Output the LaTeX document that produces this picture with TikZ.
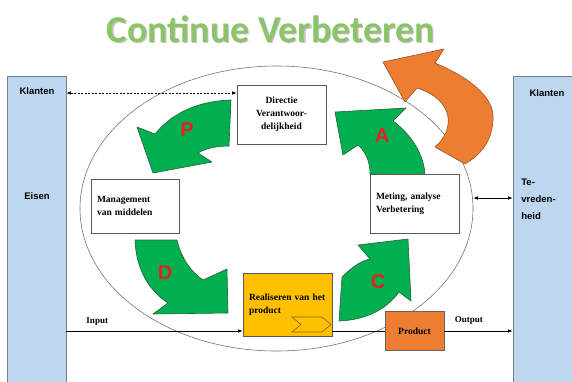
\documentclass[tikz,border=0pt]{standalone}
\usepackage{fontspec}
\setmainfont{Liberation Serif}
\newfontfamily\arialfont{Liberation Sans}
\newfontfamily\calibrifont{Carlito}
\usetikzlibrary{shapes.geometric,arrows.meta}
\definecolor{barblue}{RGB}{189,215,238}
\definecolor{barline}{RGB}{110,128,148}
\definecolor{pdcagreen}{RGB}{0,176,80}
\definecolor{pdcaline}{RGB}{40,95,55}
\definecolor{kaizenorange}{RGB}{237,125,49}
\definecolor{orangeline}{RGB}{150,82,40}
\definecolor{prodyellow}{RGB}{255,192,0}
\definecolor{chevronline}{RGB}{140,100,0}
\definecolor{titlegreen}{RGB}{140,196,106}
\definecolor{letterred}{RGB}{228,32,32}
\tikzset{every picture/.style={line width=0.75pt}}
\tikzset{
	procbox/.style={draw=black!65, line width=0.6pt, fill=white, inner xsep=6pt, inner ysep=0pt, align=left, font=\bfseries\fontsize{9.5}{13}\selectfont},
	sidebar/.style={draw=barline, line width=0.8pt, fill=barblue, minimum width=59pt, minimum height=320pt},
	bartext/.style={font=\arialfont\bfseries\fontsize{9.5}{17}\selectfont},
	flowtext/.style={font=\bfseries\fontsize{9}{11}\selectfont},
	pdcaarrow/.style={draw=pdcaline, fill=pdcagreen, line width=0.6pt, line join=round},
	pdcaletter/.style={text=letterred, font=\arialfont\bfseries\fontsize{20}{20}\selectfont}}

\begin{document}
\begin{tikzpicture}[x=1pt,y=1pt,yscale=-1,xscale=1, >={Latex[length=4.5pt,width=3.5pt]}]
	\useasboundingbox (0,0) rectangle (572,381);

	% Text Node
	\node[text=black!22, font=\calibrifont\bfseries\fontsize{38}{40}\selectfont, anchor=base] (titleshadow) at (272.2,43.2) {Continue Verbeteren};
	\node[text=titlegreen, font=\calibrifont\bfseries\fontsize{38}{40}\selectfont, anchor=base] (title) at (271,42) {Continue Verbeteren};

	%Shape: Rectangle [side bars]
	\node[sidebar] (lbar) at (36.5,236) {};
	\node[sidebar, minimum width=62pt] (rbar) at (544,236) {};

	%Shape: Ellipse [loop]
	\node[ellipse, draw=black!55, line width=0.6pt, minimum width=393pt, minimum height=285pt] (loop) at (276.5,208.5) {};

	%Shape: Curved Arrow [orange]
	\draw[draw=orangeline, fill=kaizenorange, line width=0.6pt, line join=round] (383,62) -- (444,49) -- (435,63) .. controls (475,80) and (495,100) .. (493,120) .. controls (492,140) and (482,154) .. (465,164) -- (435,147) .. controls (455,130) and (455,100) .. (417,88) -- (405,102) -- cycle ;
	%Shape: Curved Arrow [P]
	\draw[pdcaarrow] (231,100) -- (229,146) .. controls (218,146) and (206,148) .. (198,153) -- (212,162) -- (153,173) -- (137,127) -- (155,134) .. controls (172,113) and (198,101) .. (231,100) -- cycle ;
	%Shape: Curved Arrow [A]
	\draw[pdcaarrow] (335,112) -- (406,108) -- (393,121) .. controls (412,135) and (424,155) .. (425,175) -- (370,174) .. controls (370,162) and (366,152) .. (358,145) -- (343,155) -- cycle ;
	%Shape: Curved Arrow [D]
	\draw[pdcaarrow] (135,240) -- (177,240) .. controls (181,257) and (190,271) .. (203,280) -- (227,269) -- (228,313) -- (153,314) -- (168,303) .. controls (148,290) and (136,268) .. (135,240) -- cycle ;
	%Shape: Curved Arrow [C]
	\draw[pdcaarrow] (342,277) .. controls (352,267) and (361,261) .. (370,259) -- (358,245) -- (408,239) -- (411,301) -- (399,292) .. controls (387,309) and (366,320) .. (339,321) -- cycle ;

	%Shape: Rectangle [process boxes]
	\node[procbox, align=center, text width=77pt, minimum width=89pt, minimum height=59pt] (directie) at (281.5,114.5) {Directie\\Verantwoor-\\delijkheid};
	\node[procbox, text width=76pt, minimum width=88pt, minimum height=54pt] (management) at (135,206) {Management\\van middelen};
	\node[procbox, text width=77pt, minimum width=89pt, minimum height=59pt] (meting) at (414.5,203.5) {Meting, analyse\\Verbetering};
	\node[procbox, fill=prodyellow, text width=77pt, minimum width=89pt, minimum height=63pt] (realiseren) at (287.5,304.5) {Realiseren van het\\product};
	\node[procbox, fill=kaizenorange, draw=black!60, align=center, minimum width=59pt, minimum height=39pt] (product) at (414.5,331) {Product};

	%Shape: Chevron
	\draw[draw=chevronline, fill=prodyellow, line width=0.6pt] (292,317) -- (322,317) -- (331,324.5) -- (322,332) -- (292,332) -- (301,324.5) -- cycle ;

	% Text Node
	\node[pdcaletter] (letterP) at (187,130) {P};
	\node[pdcaletter] (letterA) at (382,136) {A};
	\node[pdcaletter] (letterD) at (165,273) {D};
	\node[pdcaletter] (letterC) at (378,282) {C};

	% Text Node
	\node[bartext] (klantenL) at (37,91) {Klanten};
	\node[bartext] (eisen) at (37,196) {Eisen};
	\node[bartext] (klantenR) at (547,93) {Klanten};
	\node[bartext, align=left, anchor=west, inner xsep=0pt] (tevreden) at (521,199.5) {Te-\\vreden-\\heid};

	%Straight Lines [connectors]
	\coordinate (dashrow) at (0,93);
	\coordinate (tevrow) at (0,198);
	\draw[<->, line width=0.6pt, dash pattern={on 2pt off 1.5pt}] (lbar.east |- dashrow) -- (directie.west |- dashrow) ;
	\draw[<->, line width=0.6pt] (loop.east |- tevrow) -- (rbar.west |- tevrow) ;
	\draw[->, line width=0.6pt] (lbar.east |- product.west) -- (realiseren.west |- product.west) node[flowtext, above, pos=0.175, yshift=2pt] (input) {Input} ;
	\draw[line width=0.6pt] (realiseren.east |- product.west) -- (product.west) ;
	\draw[->, line width=0.6pt] (product.east) -- (rbar.west |- product.east) node[flowtext, above, pos=0.36, yshift=3pt] (output) {Output} ;

\end{tikzpicture}
\end{document}
